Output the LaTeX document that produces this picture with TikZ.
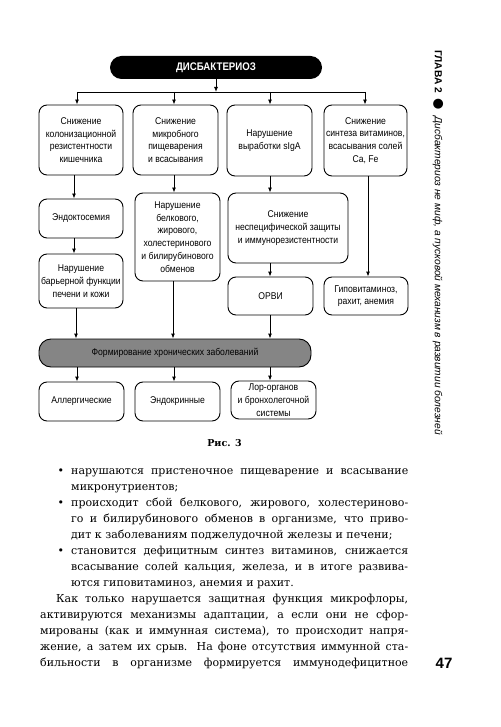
\documentclass[tikz,border=0pt]{standalone}
\usepackage{fontspec}
\setmainfont{DejaVu Serif}
\newfontfamily\boxfont[FakeStretch=0.88]{Liberation Sans}
\newfontfamily\sidefont{Liberation Sans}
\newfontfamily\dotfont{DejaVu Sans}
\usetikzlibrary{arrows.meta}
\definecolor{BarClr}{gray}{0.52}
\newcommand\fline[1]{\hbox to 337pt{#1}}
\newcommand\nline[1]{\hbox{#1}}
\newcommand\pline[1]{\moveleft31pt\hbox to 368pt{#1}}
\newcommand\bul{\llap{\textbullet\hskip7pt}}

\tikzset{
  stepbox/.style={draw,line width=0.9pt,rounded corners=8pt,align=center,inner sep=1pt,
    font=\boxfont\fontsize{9.8}{12.7}\selectfont},
  arr/.style={-{Latex[length=5pt,width=4pt]},line width=0.9pt}
}

\begin{document}
\begin{tikzpicture}[x=1pt,y=-1pt]
\useasboundingbox (0,0) rectangle (500,727);

% title
\node[fill=black,rounded corners=11.5pt,minimum width=212pt,minimum height=23pt,text=white,
  font=\boxfont\bfseries\fontsize{11}{13}\selectfont] (dis) at (216,67.5) {ДИСБАКТЕРИОЗ};

% first row
\node[stepbox,minimum width=84pt,minimum height=70pt] (b1) at (81,140) {Снижение\\колонизационной\\резистентности\\кишечника};
\node[stepbox,minimum width=85pt,minimum height=70pt] (b2) at (175.5,140) {Снижение\\микробного\\пищеварения\\и всасывания};
\node[stepbox,minimum width=85pt,minimum height=71pt] (b3) at (269.5,140.5) {Нарушение\\выработки sIgA};
\node[stepbox,minimum width=83pt,minimum height=71pt] (b4) at (365.5,140.5) {Снижение\\синтеза витаминов,\\всасывания солей\\Ca, Fe};

% second and third rows
\node[stepbox,minimum width=84pt,minimum height=39pt] (endo) at (81,218.5) {Эндоктосемия};
\node[stepbox,minimum width=85pt,minimum height=88pt] (metab) at (177.5,237) {Нарушение\\белкового,\\жирового,\\холестеринового\\и билирубинового\\обменов};
\node[stepbox,minimum width=120pt,minimum height=70pt] (immun) at (288,228) {Снижение\\неспецифической защиты\\и иммунорезистентности};
\node[stepbox,minimum width=84pt,minimum height=54pt] (barrier) at (81,281) {Нарушение\\барьерной функции\\печени и кожи};
\node[stepbox,minimum width=85pt,minimum height=38pt] (orvi) at (270.5,296) {ОРВИ};
\node[stepbox,minimum width=84pt,minimum height=38pt] (hypo) at (366,296) {Гиповитаминоз,\\рахит, анемия};

% chronic diseases
\node[stepbox,fill=BarClr,rounded corners=12pt,minimum width=272pt,minimum height=28pt] (chron) at (175,353) {Формирование хронических заболеваний};
\node[stepbox,minimum width=85pt,minimum height=39pt] (allerg) at (81.5,401.5) {Аллергические};
\node[stepbox,minimum width=85pt,minimum height=39pt] (endocr) at (177.5,401.5) {Эндокринные};
\node[stepbox,minimum width=85pt,minimum height=38pt] (lor) at (273.5,400) {Лор-органов\\и бронхолегочной\\системы};

% connectors
\coordinate (hl) at (77,92);
\coordinate (hr) at (365,92);
\draw[arr] (dis.south) -- (dis.south |- hl);
\draw[line width=0.9pt] (hl) -- (hr);
\foreach \n/\x in {b1/77,b2/174,b3/270,b4/365}
  \draw[arr] (\x,92) -- (\n.north -| \x,0);
\draw[arr] (b1.south -| 74,0) -- (endo.north -| 74,0);
\draw[arr] (endo.south -| 74,0) -- (barrier.north -| 74,0);
\draw[arr] (barrier.south -| 76,0) -- (chron.north -| 76,0);
\draw[arr] (b2.south -| 174,0) -- (metab.north -| 174,0);
\draw[arr] (metab.south -| 173,0) -- (chron.north -| 173,0);
\draw[arr] (b3.south -| 270,0) -- (immun.north -| 270,0);
\draw[arr] (immun.south -| 270,0) -- (orvi.north -| 270,0);
\draw[arr] (orvi.south -| 270,0) -- (chron.north -| 270,0);
\draw[arr] (b4.south -| 368,0) -- (hypo.north -| 368,0);
\foreach \n/\x in {allerg/77,endocr/174,lor/270}
  \draw[arr] (chron.south -| \x,0) -- (\n.north -| \x,0);

\node[font=\bfseries\fontsize{9.5}{11}\selectfont] (fig) at (224.5,443) {Рис. 3};

% running head and page number
\node[rotate=-90,anchor=west,inner sep=0pt,font=\sidefont\fontsize{10.2}{12}\selectfont] (head) at (438,50)
  {{\bfseries ГЛАВА 2}\hspace{6pt}{\dotfont\fontsize{13}{13}\selectfont ●}\hspace{6pt}{\itshape Дисбактериоз не миф, а пусковой механизм в развитии болезней}};
\node[font=\sidefont\bfseries\fontsize{15}{15}\selectfont] (pg) at (444,663) {47};

% body text
\node[anchor=north west,inner sep=0pt,font=\fontsize{11}{16}\selectfont] (txt) at (71,468) {\vbox{%
  \baselineskip=16pt\lineskiplimit=-20pt
  \fline{\bul нарушаются пристеночное пищеварение и всасывание}
  \nline{микронутриентов;}
  \fline{\bul происходит сбой белкового, жирового, холестериново-}
  \fline{го и билирубинового обменов в организме, что приво-}
  \nline{дит к заболеваниям поджелудочной железы и печени;}
  \fline{\bul становится дефицитным синтез витаминов, снижается}
  \fline{всасывание солей кальция, железа, и в итоге развива-}
  \nline{ются гиповитаминоз, анемия и рахит.}
  \pline{\hskip16pt Как только нарушается защитная функция микрофлоры,}
  \pline{активируются механизмы адаптации, а если они не сфор-}
  \pline{мированы (как и иммунная система), то происходит напря-}
  \pline{жение, а затем их срыв. На фоне отсутствия иммунной ста-}
  \pline{бильности в организме формируется иммунодефицитное}}};

\end{tikzpicture}
\end{document}
